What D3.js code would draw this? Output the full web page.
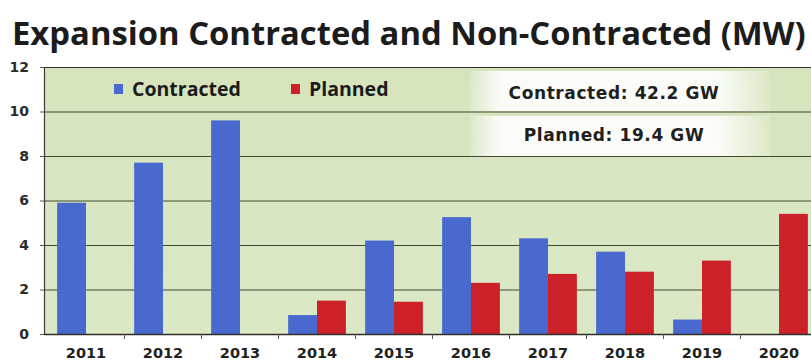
<!DOCTYPE html>
<html>
<head>
<meta charset="utf-8">
<script src="https://cdn.jsdelivr.net/npm/d3@7"></script>
<style>
  html, body { margin: 0; padding: 0; background: #ffffff; }
  svg { display: block; }
</style>
</head>
<body>
<svg id="chart" width="811" height="361"></svg>
<script>
// Yearly capacity expansion (GW-scale values on the MW axis)
const years = ["2011", "2012", "2013", "2014", "2015", "2016", "2017", "2018", "2019", "2020"];
const contracted = [5.9, 7.7, 9.6, 0.85, 4.2, 5.25, 4.3, 3.7, 0.65, 0];
const planned    = [0, 0, 0, 1.5, 1.45, 2.3, 2.7, 2.8, 3.3, 5.4];
const seriesNames = ["Contracted", "Planned"];
const yTicks = [0, 2, 4, 6, 8, 10, 12];
const titleText = "Expansion Contracted and Non-Contracted (MW)";
const totals = ["Contracted: 42.2 GW", "Planned: 19.4 GW"];

const colors = { Contracted: "#4a69cf", Planned: "#cc2128" };
const svg = d3.select("#chart");

const plot = { left: 44, top: 67, right: 822, bottom: 334 };

const x0 = d3.scaleBand().domain(years).range([47.5, 817.5]).paddingInner(0.25).paddingOuter(0.125);
const x1 = d3.scaleBand().domain(seriesNames).range([0, x0.bandwidth()]);
const y = d3.scaleLinear().domain([0, 12]).range([plot.bottom, plot.top]);

// plot background
const defs = svg.append("defs");
const grad = defs.append("linearGradient").attr("id", "bg").attr("x1", 0).attr("x2", 0).attr("y1", 0).attr("y2", 1);
grad.append("stop").attr("offset", "0%").attr("stop-color", "#d6e4bd");
grad.append("stop").attr("offset", "100%").attr("stop-color", "#dbe8c6");
svg.append("rect")
  .attr("x", plot.left).attr("y", plot.top)
  .attr("width", plot.right - plot.left).attr("height", plot.bottom - plot.top)
  .attr("fill", "url(#bg)");

// soft white panels behind the totals, fading out at the sides
const boxGrad = defs.append("linearGradient").attr("id", "boxfill").attr("x1", 0).attr("x2", 1).attr("y1", 0).attr("y2", 0);
boxGrad.append("stop").attr("offset", "0%").attr("stop-color", "#ffffff").attr("stop-opacity", 0.15);
boxGrad.append("stop").attr("offset", "10%").attr("stop-color", "#ffffff").attr("stop-opacity", 0.9);
boxGrad.append("stop").attr("offset", "82%").attr("stop-color", "#ffffff").attr("stop-opacity", 0.9);
boxGrad.append("stop").attr("offset", "100%").attr("stop-color", "#ffffff").attr("stop-opacity", 0.15);

const boxes = svg.append("g");
[[71, 40], [116, 40]].forEach(b => {
  boxes.append("rect")
    .attr("x", 470).attr("y", b[0]).attr("width", 300).attr("height", b[1])
    .attr("fill", "url(#boxfill)");
});

// gridlines
svg.append("g")
  .selectAll("line")
  .data(yTicks.filter(d => d > 0))
  .join("line")
  .attr("x1", plot.left).attr("x2", plot.right)
  .attr("y1", d => y(d) + 0.5).attr("y2", d => y(d) + 0.5)
  .attr("stroke", d => d === 12 ? "#2e2e2a" : "#3f4a33")
  .attr("stroke-width", 1);

boxes.raise();
boxes.selectAll("text")
  .data(totals)
  .join("text")
  .attr("x", 614)
  .attr("y", (d, i) => i === 0 ? 99 : 141)
  .attr("text-anchor", "middle")
  .attr("font-family", "Verdana, 'DejaVu Sans', sans-serif")
  .attr("font-weight", "bold")
  .attr("font-size", 17)
  .attr("letter-spacing", 0.6)
  .attr("fill", "#1f1f1f")
  .text(d => d);

// bars
const groups = svg.append("g")
  .selectAll("g")
  .data(years.map((yr, i) => ({ yr, vals: [
    { key: "Contracted", v: contracted[i] },
    { key: "Planned", v: planned[i] }
  ] })))
  .join("g")
  .attr("transform", d => `translate(${x0(d.yr)},0)`);

groups.selectAll("rect")
  .data(d => d.vals.filter(v => v.v > 0))
  .join("rect")
  .attr("x", d => x1(d.key))
  .attr("y", d => y(d.v))
  .attr("width", x1.bandwidth())
  .attr("height", d => y(0) - y(d.v))
  .attr("fill", d => colors[d.key]);

// y axis
const yAxis = d3.axisLeft(y).tickValues(yTicks).tickSize(4).tickPadding(11).tickFormat(d3.format("d"));
const gy = svg.append("g").attr("transform", `translate(${plot.left},0)`).call(yAxis);
gy.select(".domain").attr("stroke", "#3a3a36").attr("stroke-width", 1.2);
gy.selectAll(".tick line").attr("stroke", "#555");
gy.selectAll(".tick text")
  .attr("font-family", "Verdana, 'DejaVu Sans', sans-serif")
  .attr("font-weight", "bold")
  .attr("font-size", 14)
  .attr("fill", "#2a2a2a");

// x axis
const xAxis = d3.axisBottom(x0).tickSize(0).tickPadding(14);
const gx = svg.append("g").attr("transform", `translate(0,${plot.bottom})`).call(xAxis);
gx.select(".domain").remove();
gx.append("line").attr("x1", plot.left).attr("x2", plot.right).attr("y1", 0.5).attr("y2", 0.5)
  .attr("stroke", "#2e2e2a").attr("stroke-width", 1.5);
gx.selectAll(".tick text")
  .attr("font-family", "Verdana, 'DejaVu Sans', sans-serif")
  .attr("font-weight", "bold")
  .attr("font-size", 14.5)
  .attr("fill", "#222");
// small separators between categories
gx.selectAll(".sep")
  .data(years.slice(1))
  .join("line")
  .attr("x1", d => x0(d) - x0.step() * x0.paddingInner() / 2)
  .attr("x2", d => x0(d) - x0.step() * x0.paddingInner() / 2)
  .attr("y1", 0).attr("y2", 5)
  .attr("stroke", "#555");

// legend
const legend = svg.append("g");
const legendItems = [{ key: "Contracted", x: 114, tx: 132 }, { key: "Planned", x: 291, tx: 309 }];
legend.selectAll("rect")
  .data(legendItems)
  .join("rect")
  .attr("x", d => d.x).attr("y", 84)
  .attr("width", 9).attr("height", 10)
  .attr("fill", d => colors[d.key]);
legend.selectAll("text")
  .data(legendItems)
  .join("text")
  .attr("x", d => d.tx).attr("y", 96)
  .attr("font-family", "'Open Sans', sans-serif")
  .attr("font-weight", "bold")
  .attr("font-size", 19.5)
  .attr("fill", "#1a1a1a")
  .text(d => d.key);

// title, sized to span the chart width
const title = svg.append("text")
  .attr("x", 12).attr("y", 45)
  .attr("font-family", "'Open Sans', sans-serif")
  .attr("font-weight", "bold")
  .attr("font-size", 30)
  .attr("fill", "#1c1c1c")
  .text(titleText);
const w = title.node().getComputedTextLength();
title.attr("font-size", 30 * 794 / w);
</script>
</body>
</html>
